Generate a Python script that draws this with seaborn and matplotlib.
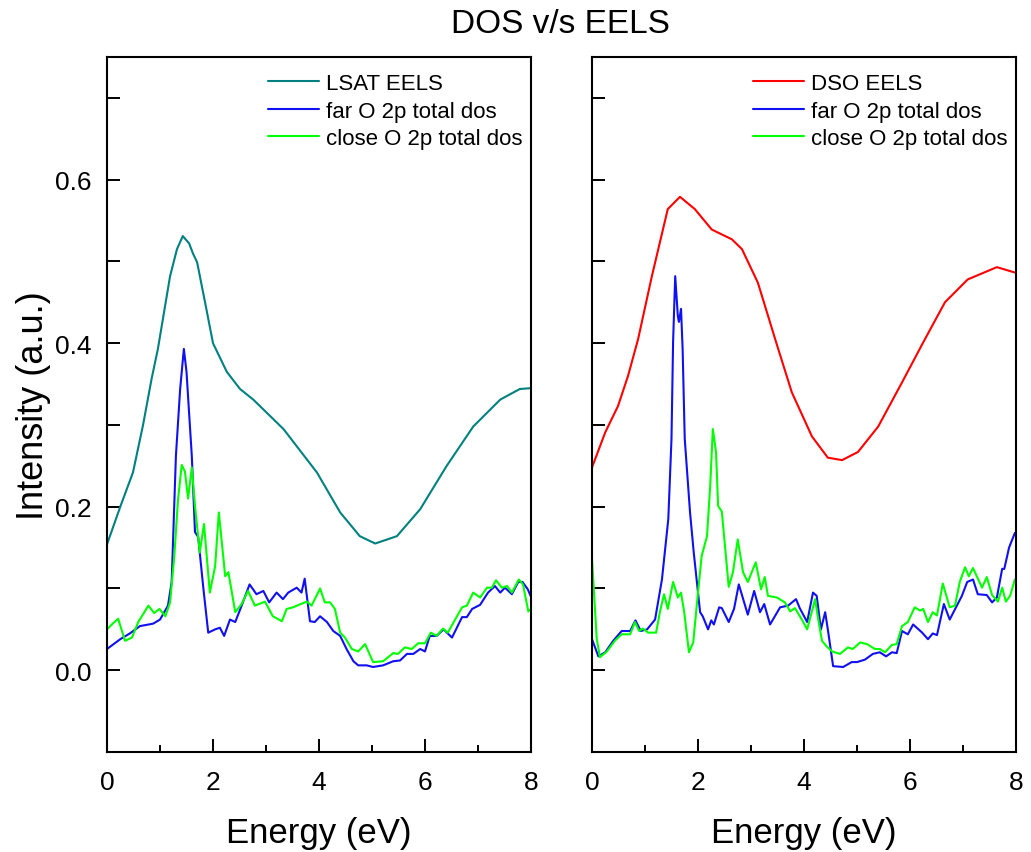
import numpy as np
import pandas as pd
import seaborn as sns
import matplotlib.pyplot as plt
from matplotlib.ticker import MultipleLocator, FormatStrFormatter

# ---- left panel: LSAT ----
e_lsat = [0.0, 0.25, 0.49, 0.68, 0.84, 0.96, 1.19, 1.32, 1.43, 1.55, 1.62, 1.70, 1.85, 2.0,
          2.26, 2.51, 2.76, 3.33, 3.96, 4.40, 4.77, 5.06, 5.47, 5.91, 6.41, 6.91, 7.42, 7.79, 8.0]
i_lsat = [0.154, 0.20, 0.242, 0.30, 0.356, 0.393, 0.482, 0.515, 0.531, 0.522, 0.51, 0.499, 0.45, 0.40,
          0.365, 0.344, 0.331, 0.295, 0.242, 0.193, 0.164, 0.155, 0.164, 0.197, 0.250, 0.298, 0.331, 0.344, 0.345]

e_far_l = [0.0, 0.25, 0.43, 0.62, 0.87, 1.0, 1.15, 1.22, 1.30, 1.38, 1.45, 1.50, 1.60, 1.66,
           1.72, 1.82, 1.91, 2.04, 2.13, 2.21, 2.32, 2.42, 2.54, 2.69, 2.82, 2.95, 3.06, 3.20,
           3.32, 3.42, 3.58, 3.67, 3.73, 3.83, 3.92, 4.02, 4.15, 4.27, 4.40, 4.52, 4.65, 4.74,
           4.90, 5.02, 5.21, 5.40, 5.53, 5.66, 5.78, 5.91, 6.00, 6.09, 6.22, 6.35, 6.51, 6.70,
           6.79, 6.89, 7.04, 7.19, 7.32, 7.42, 7.51, 7.64, 7.76, 7.84, 7.94, 8.0]
i_far_l = [0.026, 0.038, 0.045, 0.054, 0.057, 0.062, 0.079, 0.108, 0.262, 0.344, 0.393, 0.365, 0.262, 0.169,
           0.163, 0.099, 0.046, 0.050, 0.052, 0.042, 0.062, 0.059, 0.079, 0.105, 0.093, 0.097, 0.083, 0.095,
           0.087, 0.095, 0.101, 0.095, 0.112, 0.060, 0.059, 0.066, 0.059, 0.048, 0.042, 0.026, 0.011, 0.006,
           0.006, 0.004, 0.006, 0.011, 0.012, 0.020, 0.020, 0.026, 0.023, 0.042, 0.042, 0.050, 0.040, 0.065,
           0.065, 0.075, 0.080, 0.095, 0.103, 0.095, 0.101, 0.093, 0.108, 0.108, 0.099, 0.090]

e_close_l = [0.0, 0.09, 0.21, 0.34, 0.47, 0.59, 0.78, 0.89, 0.99, 1.10, 1.19, 1.27, 1.34, 1.41,
             1.47, 1.53, 1.60, 1.66, 1.75, 1.83, 1.94, 2.04, 2.11, 2.23, 2.29, 2.42, 2.54, 2.66,
             2.79, 2.98, 3.13, 3.30, 3.39, 3.51, 3.77, 3.86, 4.02, 4.11, 4.21, 4.30, 4.40, 4.49,
             4.62, 4.74, 4.87, 5.02, 5.21, 5.40, 5.49, 5.62, 5.75, 5.87, 6.00, 6.11, 6.22, 6.34,
             6.43, 6.70, 6.79, 6.91, 7.04, 7.17, 7.26, 7.34, 7.45, 7.55, 7.64, 7.77, 7.85, 7.95, 8.0]
i_close_l = [0.050, 0.056, 0.063, 0.036, 0.040, 0.059, 0.079, 0.070, 0.075, 0.066, 0.083, 0.140, 0.209, 0.251,
             0.243, 0.210, 0.248, 0.201, 0.144, 0.179, 0.095, 0.127, 0.193, 0.115, 0.120, 0.071, 0.081, 0.097,
             0.079, 0.084, 0.066, 0.060, 0.075, 0.077, 0.084, 0.079, 0.100, 0.083, 0.083, 0.075, 0.046, 0.040,
             0.026, 0.023, 0.032, 0.010, 0.011, 0.021, 0.020, 0.028, 0.026, 0.033, 0.033, 0.046, 0.042, 0.051,
             0.046, 0.077, 0.079, 0.095, 0.089, 0.101, 0.101, 0.110, 0.101, 0.103, 0.095, 0.111, 0.105, 0.072, 0.075]

# ---- right panel: DSO ----
e_dso = [0.0, 0.25, 0.49, 0.68, 0.87, 1.13, 1.43, 1.66, 1.94, 2.26, 2.64, 2.83, 3.13, 3.48,
         3.77, 4.15, 4.45, 4.72, 5.02, 5.40, 5.85, 6.25, 6.66, 7.09, 7.64, 8.0]
i_dso = [0.248, 0.291, 0.323, 0.360, 0.405, 0.482, 0.564, 0.579, 0.564, 0.539, 0.527, 0.515, 0.474, 0.400,
         0.340, 0.286, 0.260, 0.257, 0.267, 0.298, 0.352, 0.401, 0.450, 0.478, 0.493, 0.486]

e_far_r = [0.0, 0.12, 0.25, 0.40, 0.56, 0.72, 0.82, 0.92, 1.04, 1.19, 1.32, 1.44, 1.50, 1.53,
           1.57, 1.62, 1.64, 1.68, 1.71, 1.75, 1.85, 1.92, 2.04, 2.09, 2.19, 2.25, 2.30, 2.40,
           2.45, 2.58, 2.68, 2.77, 2.94, 3.06, 3.17, 3.25, 3.36, 3.55, 3.70, 3.85, 3.92, 4.06,
           4.17, 4.24, 4.32, 4.40, 4.45, 4.55, 4.74, 4.90, 5.00, 5.15, 5.30, 5.43, 5.55, 5.66,
           5.75, 5.85, 5.96, 6.06, 6.23, 6.34, 6.43, 6.51, 6.64, 6.75, 6.98, 7.08, 7.19, 7.28,
           7.45, 7.55, 7.64, 7.74, 7.78, 7.87, 7.98]
i_far_r = [0.038, 0.017, 0.022, 0.036, 0.048, 0.048, 0.061, 0.048, 0.050, 0.062, 0.111, 0.185, 0.283, 0.401,
           0.482, 0.433, 0.426, 0.442, 0.393, 0.283, 0.193, 0.144, 0.071, 0.066, 0.050, 0.061, 0.056, 0.077,
           0.076, 0.059, 0.075, 0.105, 0.068, 0.097, 0.071, 0.081, 0.056, 0.077, 0.079, 0.087, 0.076, 0.059,
           0.095, 0.091, 0.050, 0.071, 0.050, 0.005, 0.004, 0.010, 0.010, 0.013, 0.020, 0.022, 0.017, 0.022,
           0.021, 0.048, 0.044, 0.056, 0.046, 0.038, 0.045, 0.043, 0.081, 0.062, 0.091, 0.108, 0.111, 0.093,
           0.092, 0.083, 0.089, 0.124, 0.124, 0.150, 0.168]

e_close_r = [0.0, 0.09, 0.15, 0.28, 0.43, 0.56, 0.72, 0.81, 0.89, 0.96, 1.06, 1.21, 1.28, 1.36,
             1.43, 1.53, 1.62, 1.68, 1.74, 1.83, 1.91, 2.00, 2.07, 2.17, 2.23, 2.28, 2.34, 2.38,
             2.45, 2.58, 2.66, 2.75, 2.85, 2.94, 3.09, 3.19, 3.26, 3.32, 3.49, 3.64, 3.74, 3.83,
             3.96, 4.06, 4.15, 4.21, 4.26, 4.34, 4.43, 4.53, 4.68, 4.83, 4.92, 5.06, 5.19, 5.34,
             5.43, 5.53, 5.66, 5.75, 5.85, 5.96, 6.09, 6.19, 6.25, 6.34, 6.43, 6.51, 6.62, 6.75,
             6.85, 6.94, 7.04, 7.11, 7.19, 7.36, 7.45, 7.55, 7.66, 7.74, 7.81, 7.89, 7.98]
i_close_r = [0.136, 0.038, 0.016, 0.023, 0.036, 0.044, 0.044, 0.059, 0.048, 0.051, 0.046, 0.046, 0.071, 0.093,
             0.075, 0.108, 0.089, 0.095, 0.071, 0.022, 0.034, 0.095, 0.140, 0.164, 0.225, 0.295, 0.267, 0.201,
             0.194, 0.102, 0.120, 0.160, 0.120, 0.108, 0.132, 0.099, 0.114, 0.091, 0.089, 0.083, 0.072, 0.076,
             0.062, 0.050, 0.072, 0.087, 0.066, 0.036, 0.029, 0.023, 0.020, 0.028, 0.026, 0.034, 0.032, 0.026,
             0.026, 0.022, 0.031, 0.032, 0.054, 0.059, 0.077, 0.073, 0.075, 0.059, 0.071, 0.067, 0.106, 0.077,
             0.079, 0.108, 0.126, 0.115, 0.125, 0.101, 0.114, 0.092, 0.084, 0.101, 0.084, 0.091, 0.111]

sns.set_style("white")
plt.rcParams['font.family'] = ['Liberation Sans', 'DejaVu Sans']
plt.rcParams['text.color'] = 'black'
plt.rcParams['axes.labelcolor'] = 'black'
plt.rcParams['xtick.color'] = 'black'
plt.rcParams['ytick.color'] = 'black'

fig = plt.figure(figsize=(10.31, 8.53), dpi=100)
ax1 = fig.add_axes([0.1038, 0.1172, 0.4112, 0.8148])
ax2 = fig.add_axes([0.5742, 0.1172, 0.4112, 0.8148], sharey=ax1)

panels = [
    (ax1, [(e_lsat, i_lsat, '#008080', 'LSAT EELS'),
           (e_far_l, i_far_l, '#1010F0', 'far O 2p total dos'),
           (e_close_l, i_close_l, '#00FF00', 'close O 2p total dos')]),
    (ax2, [(e_dso, i_dso, '#FF0000', 'DSO EELS'),
           (e_far_r, i_far_r, '#1010F0', 'far O 2p total dos'),
           (e_close_r, i_close_r, '#00FF00', 'close O 2p total dos')]),
]

for ax, series in panels:
    for e, i, c, lab in series:
        sns.lineplot(x=e, y=i, ax=ax, color=c, label=lab, lw=1.5,
                     estimator=None, sort=False)
    ax.set_xlim(0, 8)
    ax.set_ylim(-0.1, 0.75)
    ax.xaxis.set_major_locator(MultipleLocator(2))
    ax.xaxis.set_minor_locator(MultipleLocator(1))
    ax.yaxis.set_major_locator(MultipleLocator(0.2))
    ax.yaxis.set_minor_locator(MultipleLocator(0.1))
    ax.yaxis.set_major_formatter(FormatStrFormatter('%.1f'))
    ax.tick_params(which='both', direction='in', width=1.4, labelsize=19,
                   colors='black', top=False, right=False, left=True, bottom=True)
    ax.tick_params(axis='x', which='major', length=9.5, pad=13)
    ax.tick_params(axis='x', which='minor', length=5)
    ax.tick_params(axis='y', which='both', length=9.5, pad=11)
    for sp in ax.spines.values():
        sp.set_linewidth(1.5)
        sp.set_color('black')
    ax.set_xlabel('Energy (eV)', fontsize=25, labelpad=16, color='black')
    ax.legend(loc='upper right', bbox_to_anchor=(1.0, 0.99), frameon=False,
              fontsize=16, handlelength=2.3, handletextpad=0.3,
              labelspacing=0.3, borderaxespad=0.0)

ax1.set_ylabel('Intensity (a.u.)', fontsize=26, labelpad=3, color='black')
ax2.set_ylabel('')
ax2.tick_params(axis='y', labelleft=False)

fig.suptitle('DOS v/s EELS', fontsize=24, x=0.544, y=0.99, color='black')

fig.savefig('out.png', dpi=100)
